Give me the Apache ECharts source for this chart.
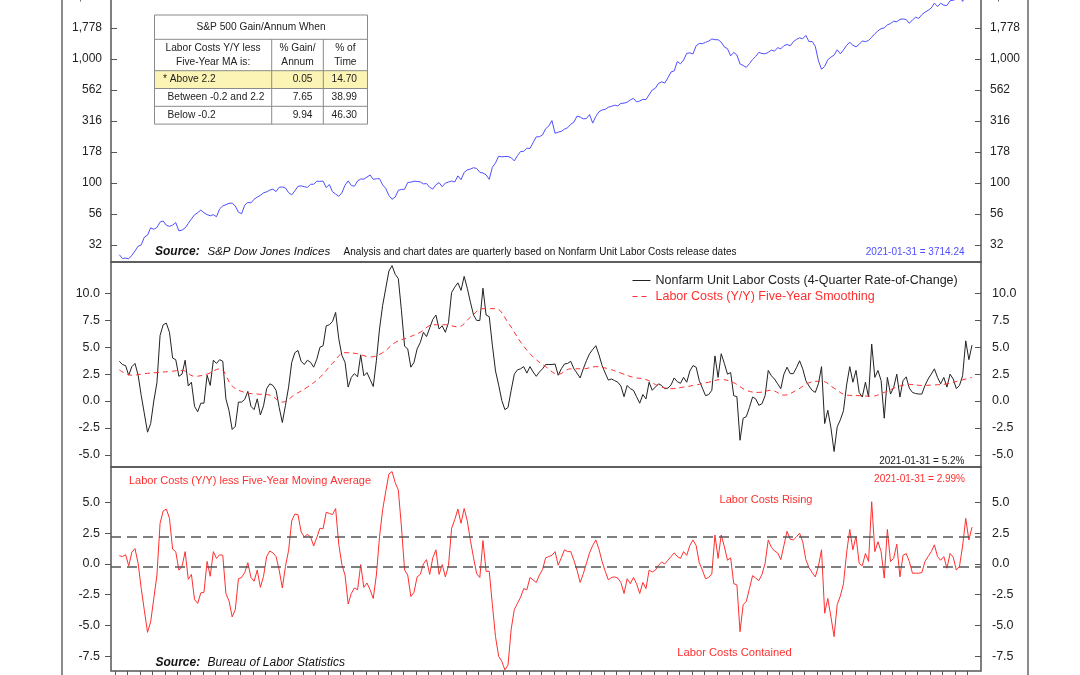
<!DOCTYPE html>
<html>
<head>
<meta charset="utf-8">
<title>S&amp;P 500 and Unit Labor Costs</title>
<script src="https://cdn.jsdelivr.net/npm/echarts@6/dist/echarts.min.js"></script>
<style>
  html, body { margin: 0; padding: 0; background: #fff; }
  #chart { width: 1080px; height: 675px; }
</style>
</head>
<body>
<div id="chart"></div>
<script>
// Three stacked panels: S&P 500 (log), unit labor costs y/y + 5-yr smoothing,
// and the spread between the two. Quarterly points, Jan 1953 .. Jan 2021.

const FONT = '"Liberation Sans", Arial, Helvetica, sans-serif';
const FIRST_YEAR = 1953;
const QUARTER_MONTHS = [1, 4, 7, 10];

// S&P 500, quarterly (Jan/Apr/Jul/Oct)
const spx = [
  26.4, 24.6, 24.8, 24.5,   26.1, 28.3, 30.9, 31.7,   36.6, 38.0, 43.5, 42.3,
  43.8, 48.4, 49.4, 45.6,   44.7, 45.7, 47.9, 41.1,   41.7, 43.4, 47.2, 51.3,
  55.4, 57.6, 60.5, 57.5,   55.6, 54.4, 55.5, 53.4,   61.8, 65.3, 66.8, 68.6,
  68.8, 65.2, 58.2, 56.5,   66.2, 69.8, 69.1, 74.0,   77.0, 79.5, 83.2, 84.9,
  87.6, 89.1, 85.3, 92.4,   92.9, 91.1, 83.6, 80.2,   86.6, 94.0, 94.8, 93.3,
  92.2, 97.6, 97.7, 103.4,  103.0, 103.7, 91.8, 97.1, 85.0, 81.5, 78.1, 83.3,
  95.9, 104.0, 95.6, 94.2,  103.9, 107.7, 107.4, 111.6, 116.0, 107.0, 108.2, 108.3,
  96.6, 90.3, 79.3, 73.9,   77.0, 87.3, 88.8, 89.0,  100.9, 101.6, 103.4, 102.9,
  102.0, 98.4, 98.9, 92.3,  89.3, 96.8, 100.7, 93.2,  99.9, 101.8, 103.8, 101.8,
  114.2, 106.3, 121.7, 127.5, 129.6, 132.8, 130.9, 121.9, 120.4, 116.4, 107.1, 133.7,
  145.3, 164.4, 162.6, 163.6, 163.4, 160.1, 150.7, 166.1, 179.6, 179.8, 190.9, 189.8,
  211.8, 235.5, 236.1, 244.0, 274.1, 288.4, 318.7, 251.8, 257.1, 261.3, 272.0, 279.0,
  297.5, 309.6, 346.1, 340.4, 329.1, 330.8, 356.2, 304.0, 343.9, 375.4, 387.8, 392.5,
  408.8, 415.0, 424.2, 418.7, 438.8, 440.2, 448.1, 467.8, 481.6, 450.9, 458.3, 472.4,
  470.4, 514.7, 562.1, 581.5, 636.0, 654.2, 640.0, 705.3, 786.2, 801.3, 954.3, 914.6,
  980.3, 1111.8, 1120.7, 1098.7, 1279.6, 1335.2, 1328.7, 1362.9, 1394.5, 1452.4, 1430.8, 1429.4,
  1366.0, 1249.5, 1211.2, 1059.8, 1130.2, 1076.9, 911.6, 885.8, 855.7, 916.9, 990.3, 1050.7,
  1131.1, 1107.3, 1101.7, 1130.2, 1181.3, 1156.9, 1234.2, 1207.0, 1280.1, 1310.6, 1276.7, 1377.9,
  1438.2, 1482.4, 1455.3, 1549.4, 1378.6, 1385.6, 1267.4, 968.8, 825.9, 872.8, 987.5, 1036.2,
  1073.9, 1186.7, 1101.6, 1183.3, 1286.1, 1363.6, 1292.3, 1253.3, 1312.4, 1397.9, 1379.3, 1412.2,
  1498.1, 1597.6, 1685.7, 1756.5, 1782.6, 1884.0, 1930.7, 2018.1, 1995.0, 2085.5, 2103.8, 2079.4,
  1940.2, 2065.3, 2173.6, 2126.2, 2278.9, 2384.2, 2470.3, 2575.3, 2823.8, 2648.1, 2816.3, 2711.7,
  2704.1, 2945.8, 2980.4, 3037.6, 3225.5, 2912.4, 3271.1, 3270.0, 3714.24
];

// Nonfarm unit labor costs, 4-quarter rate of change (%)
const laborCostsYoY = [
  3.7, 3.4, 3.3, 2.4, 3.2, 3.5, 2.4, 0.5, -1.2, -2.9,
  -2.1, 0.0, 1.7, 6.1, 7.1, 7.25, 6.4, 4.0, 3.85, 2.3,
  2.5, 3.8, 1.4, 1.75, -0.5, -1.0, -0.2, -0.2, 2.4, 1.45,
  3.8, 3.5, 3.85, 3.7, 0.2, -0.9, -2.65, -2.35, -0.1, -0.1,
  0.15, 0.9, -0.5, -0.8, 0.2, -1.3, -0.45, 1.15, 1.6, 1.45,
  1.0, -0.6, -2.0, -0.4, 1.3, 3.6, 4.5, 4.7, 3.7, 3.4,
  3.8, 3.6, 3.15, 3.9, 5.0, 5.15, 7.0, 7.1, 7.4, 8.25,
  5.8, 4.25, 3.6, 1.3, 2.2, 2.55, 2.25, 4.3, 2.35, 2.65,
  2.0, 1.35, 3.75, 6.7, 8.9, 10.5, 12.1, 12.6, 11.8, 11.4,
  8.4, 5.1, 4.85, 3.15, 3.6, 4.85, 5.45, 6.4, 6.0, 6.8,
  7.6, 8.0, 6.7, 7.0, 6.4, 7.3, 10.1, 10.6, 11.0, 10.3,
  11.6, 10.5, 9.2, 8.0, 7.5, 7.5, 10.5, 8.0, 7.85, 5.2,
  2.8, 1.5, 0.06, -0.8, -0.6, 1.0, 2.5, 2.9, 3.0, 3.2,
  2.6, 3.2, 2.7, 2.3, 2.7, 3.0, 3.4, 3.4, 3.4, 3.45, 2.4,
  3.0, 3.45, 3.5, 3.7, 3.0, 2.6, 2.15, 3.0, 3.75, 4.4,
  4.8, 5.15, 4.3, 3.3, 2.6, 1.95, 2.05, 1.9, 1.75, 1.4,
  0.4, 1.45, 1.15, 1.0, 0.4, -0.2, 0.6, 0.2, 1.75, 1.0,
  1.3, 1.6, 1.45, 1.15, 1.2, 1.5, 2.15, 1.8, 1.65, 2.2,
  1.75, 2.8, 3.3, 3.15, 1.9, 1.2, 0.5, 0.6, 1.0, 4.2,
  2.2, 4.4, 3.5, 2.5, 2.65, 0.5, 0.4, -3.65, -1.6, -1.45,
  -0.6, 0.37, 0.2, -0.4, -0.25, 0.5, 2.85, 2.35, 2.05, 1.6,
  1.15, 2.5, 3.15, 2.55, 2.55, 3.1, 3.75, 3.0, 1.9, 1.4,
  1.0, 0.8, 1.6, 3.2, -2.1, -0.86, -2.5, -4.7, -2.4, -1.75,
  -0.9, 1.5, 3.2, 1.75, 2.85, 0.8, 0.37, 1.75, 0.37, 5.3,
  2.2, 2.85, 1.9, -1.6, 2.2, 0.65, 1.25, 2.5, 0.37, 1.9,
  2.25, 1.2, 0.8, 0.7, 0.65, 0.65, 1.45, 2.05, 2.5, 3.0,
  2.2, 1.6, 2.2, 1.3, 2.5, 2.05, 1.15, 1.45, 2.35, 5.6,
  3.85, 5.2
];

// Five-year smoothing, one reading per year (January quarter)
const laborCostsSmooth = [
  2.9, 2.4, 2.55, 2.65, 2.75, 2.85, 2.3, 2.5, 3.0, 1.4,
  0.8, 0.65, 0.55, -0.1, 0.6, 1.3, 2.2, 3.5, 4.5, 4.4,
  4.1, 4.5, 5.45, 5.9, 6.4, 7.1, 7.1, 6.9, 7.8, 8.6,
  8.6, 7.3, 5.5, 4.1, 3.2, 2.5, 3.0, 3.0, 3.2, 3.0,
  2.6, 2.2, 2.0, 1.4, 1.15, 1.3, 1.5, 1.75, 2.0, 1.7,
  1.0, 0.8, 1.0, 0.55, 1.0, 1.7, 1.85, 1.2, 0.55, 0.5,
  0.45, 0.8, 1.3, 1.55, 1.45, 1.5, 1.6, 1.9, 2.2
];

// Labor costs y/y less five-year moving average
const laborCostsLessMA = [
  0.67, 0.6, 0.75, -0.15, 0.95, 1.25, 0.05, -2.0, -3.8, -5.55,
  -4.7, -2.8, -0.9, 3.3, 4.3, 4.45, 3.7, 1.2, 1.0, -0.5,
  -0.2, 1.0, -1.25, -0.85, -2.9, -3.2, -2.35, -2.3, 0.2, -1.0,
  1.0, 0.45, 0.75, 0.7, -2.4, -3.0, -4.3, -3.7, -1.2, -1.1,
  -0.7, 0.1, -1.1, -1.4, -0.5, -1.9, -1.0, 0.6, 1.05, 0.9,
  0.6, -0.5, -1.95, -0.2, 1.1, 3.5, 4.05, 4.0, 2.6, 2.2,
  2.4, 2.2, 1.45, 2.15, 2.9, 2.85, 4.2, 4.1, 4.0, 4.5,
  1.6, -0.05, -0.9, -3.25, -2.4, -1.95, -2.1, -0.05, -1.9, -1.55,
  -2.1, -2.8, -0.9, 2.2, 4.4, 5.9, 7.3, 7.5, 6.6, 6.0,
  3.0, -0.5, -0.9, -2.65, -2.3, -1.05, -0.85, 0.0, 0.35, -0.85,
  0.5, 1.15, -0.85, -0.05, -1.05, -0.15, 2.9, 3.6, 4.45, 3.3,
  4.5, 3.5, 1.9, 0.5, -0.8, -1.1, 1.9, -0.6, -0.6, -3.3,
  -5.9, -7.5, -7.9, -8.6, -8.2, -5.3, -3.7, -3.2, -2.7, -2.0,
  -2.1, -1.1, -1.3, -1.5, -0.9, -0.45, 0.5, 0.6, 0.7, 1.0, -0.1,
  0.5, 1.15, 1.0, 1.0, 0.3, -0.5, -1.5, -0.8, 0.05, 0.9,
  1.5, 1.95, 1.2, 0.2, -0.6, -1.3, -1.1, -1.05, -1.15, -1.5,
  -2.4, -1.2, -1.6, -1.1, -1.6, -2.4, -1.5, -2.0, -0.5, -0.65,
  -0.5, -0.1, 0.15, 0.0, 0.3, 0.6, 0.9, 0.6, 0.45, 1.0,
  0.7, 1.5, 1.95, 1.5, 0.1, -0.5, -1.2, -1.1, -0.8, 2.35,
  0.45, 2.35, 1.4, 0.3, 0.5, -1.6, -1.7, -5.5, -3.3, -3.05,
  -2.0, -0.95, -1.15, -1.35, -0.85, 0.05, 1.95, 1.35, 1.05, 0.9,
  0.35, 1.5, 2.65, 2.0, 1.95, 2.2, 2.5, 1.8, 0.35, -0.3,
  -0.7, -1.05, -0.2, 1.15, -4.0, -2.8, -4.3, -5.9, -3.3, -2.6,
  -1.6, 0.9, 2.8, 1.15, 2.25, 0.05, -0.15, 0.85, 0.2, 5.05,
  1.0, 1.8, 1.0, -1.15, 2.8, 0.2, 0.45, 1.6, -1.05, 0.7,
  0.85, 0.2, -0.75, -0.75, -0.75, -0.7, 0.2, 0.6, 1.0, 1.55,
  0.6, 0.3, 0.6, -0.35, 0.85, 0.55, -0.5, -0.2, 1.45, 3.7,
  1.95, 2.99
];

const laborTicks = [-5, -2.5, 0, 2.5, 5, 7.5, 10];
const spreadTicks = [-7.5, -5, -2.5, 0, 2.5, 5];
const spreadBands = [2.2, -0.2];

const tableTitle = 'S&P 500 Gain/Annum When';
const tableHead = [
  ['Labor Costs Y/Y less', 'Five-Year MA is:'],
  ['% Gain/', 'Annum'],
  ['% of', 'Time']
];
const tableRows = [
  ['* Above 2.2', '0.05', '14.70'],
  ['Between -0.2 and 2.2', '7.65', '38.99'],
  ['Below -0.2', '9.94', '46.30']
];

// release-date position in decimal years
const qTime = spx.map((_, i) => FIRST_YEAR + Math.floor(i / 4) + QUARTER_MONTHS[i % 4] / 12);
const yearTime = laborCostsSmooth.map((_, k) => qTime[k * 4]);
const yearTicks = [];
for (let y = 1952; y <= 2020; y++) yearTicks.push(y + 0.74);

const X_MIN = 1952.42, X_MAX = 2021.8;
const pairs = (xs, ys) => ys.map((v, i) => [xs[i], v]);

const RED = '#ff2f2f';
const BLUE = '#4f4fff';
const AXIS = '#555';

function fmtThousands(v) {
  return String(Math.round(v)).replace(/\B(?=(\d{3})+(?!\d))/g, ',');
}

function txt(x, y, text, o) {
  o = o || {};
  return {
    type: 'text', x: x, y: y, silent: true, z: 100,
    style: {
      text: text,
      font: (o.style || '') + ' ' + (o.size || 12) + 'px ' + FONT,
      fill: o.color || '#222',
      textAlign: o.align || 'left', align: o.align || 'left',
      textVerticalAlign: 'middle', verticalAlign: 'middle'
    }
  };
}

function hline(x1, x2, y, color, w) {
  return { type: 'line', silent: true, z: 99, shape: { x1: x1, y1: y, x2: x2, y2: y }, style: { stroke: color, lineWidth: w || 1 } };
}

function vline(x, y1, y2, color, w) {
  return { type: 'line', silent: true, z: 99, shape: { x1: x, y1: y1, x2: x, y2: y2 }, style: { stroke: color, lineWidth: w || 1 } };
}

// ---- summary table (top-left) ----
const T = { l: 154.5, r: 367.5, top: 15, titleB: 39.3, headB: 70.7, rowH: 17.8, c1: 271.7, c2: 323.3 };
const TS = 10.2;
const tableGraphics = [
  { type: 'rect', silent: true, z: 98, shape: { x: T.l, y: T.top, width: T.r - T.l, height: T.headB + 3 * T.rowH - T.top }, style: { fill: '#fff', stroke: '#8a8a8a', lineWidth: 1 } },
  { type: 'rect', silent: true, z: 98, shape: { x: T.l + 0.5, y: T.headB, width: T.r - T.l - 1, height: T.rowH }, style: { fill: '#fbf4b4' } },
  hline(T.l, T.r, T.titleB, '#8a8a8a'),
  hline(T.l, T.r, T.headB, '#8a8a8a'),
  hline(T.l, T.r, T.headB + T.rowH, '#8a8a8a'),
  hline(T.l, T.r, T.headB + 2 * T.rowH, '#8a8a8a'),
  vline(T.c1, T.titleB, T.headB + 3 * T.rowH, '#8a8a8a'),
  vline(T.c2, T.titleB, T.headB + 3 * T.rowH, '#8a8a8a'),
  txt((T.l + T.r) / 2, (T.top + T.titleB) / 2, tableTitle, { align: 'center', size: TS })
];
const colMid = [(T.l + T.c1) / 2, (T.c1 + T.c2) / 2, (T.c2 + T.r) / 2];
tableHead.forEach((lines, c) => {
  tableGraphics.push(txt(colMid[c], 48.5, lines[0], { align: 'center', size: TS }));
  tableGraphics.push(txt(colMid[c], 62, lines[1], { align: 'center', size: TS }));
});
tableRows.forEach((row, r) => {
  const y = T.headB + r * T.rowH + T.rowH / 2;
  tableGraphics.push(txt(r === 0 ? 163 : 167.5, y, row[0], { size: TS }));
  tableGraphics.push(txt(312.5, y, row[1], { size: TS, align: 'right' }));
  tableGraphics.push(txt(357, y, row[2], { size: TS, align: 'right' }));
});

const chart = echarts.init(document.getElementById('chart'), null, { renderer: 'canvas' });

const gridBase = { left: 111, right: 99, show: true, borderColor: AXIS, borderWidth: 1.5, backgroundColor: 'transparent', containLabel: false, outerBoundsMode: 'none' };

function xAxisFor(g) {
  return {
    gridIndex: g, type: 'value', min: X_MIN, max: X_MAX, position: 'bottom',
    axisLine: { show: false, onZero: false }, axisLabel: { show: false }, splitLine: { show: false },
    axisTick: { show: g === 2, customValues: yearTicks, length: 5, lineStyle: { color: AXIS, width: 1 } }
  };
}

function yValueAxis(g, pos, min, max, ticks, insideTick) {
  return {
    gridIndex: g, type: 'value', position: pos, min: min, max: max,
    axisLine: { show: false, onZero: false }, splitLine: { show: false },
    axisTick: { inside: insideTick, length: 6, customValues: ticks, lineStyle: { color: AXIS, width: 1 } },
    axisLabel: {
      customValues: ticks, margin: 11,
      formatter: v => v.toFixed(1), color: '#222', fontFamily: FONT, fontSize: 12.5
    }
  };
}

function yLogAxis(pos) {
  return {
    gridIndex: 0, type: 'log', logBase: Math.pow(10, 0.25), position: pos,
    min: 23.06, max: 4336,
    axisLine: { show: false, onZero: false }, splitLine: { show: false },
    axisTick: { inside: true, length: 6, lineStyle: { color: AXIS, width: 1 } },
    axisLabel: {
      margin: 9, formatter: fmtThousands, color: '#222', fontFamily: FONT, fontSize: 12,
      showMinLabel: false, showMaxLabel: false
    }
  };
}

const option = {
  animation: false,
  backgroundColor: '#fff',
  textStyle: { fontFamily: FONT },
  grid: [
    Object.assign({ top: -20, height: 282 }, gridBase),
    Object.assign({ top: 262, height: 205 }, gridBase),
    Object.assign({ top: 467, height: 204 }, gridBase)
  ],
  xAxis: [xAxisFor(0), xAxisFor(1), xAxisFor(2)],
  yAxis: [
    yLogAxis('left'),
    yLogAxis('right'),
    yValueAxis(1, 'left', -6.14, 12.94, laborTicks, false),
    yValueAxis(1, 'right', -6.14, 12.94, laborTicks, true),
    yValueAxis(2, 'left', -8.69, 7.87, spreadTicks, false),
    yValueAxis(2, 'right', -8.69, 7.87, spreadTicks, true)
  ],
  legend: {
    orient: 'vertical', left: 632, top: 274, padding: 0,
    itemWidth: 18, itemHeight: 12, itemGap: 3,
    itemStyle: { opacity: 0 },
    lineStyle: { width: 1 },
    textStyle: { fontFamily: FONT, fontSize: 12.5, lineHeight: 13 },
    data: [
      { name: 'Nonfarm Unit Labor Costs (4-Quarter Rate-of-Change)', textStyle: { color: '#222' } },
      { name: 'Labor Costs (Y/Y) Five-Year Smoothing', textStyle: { color: RED } }
    ]
  },
  series: [
    {
      name: 'S&P 500', type: 'line', xAxisIndex: 0, yAxisIndex: 0,
      data: pairs(qTime, spx), showSymbol: false, symbol: 'none', clip: true,
      lineStyle: { color: BLUE, width: 1 }, itemStyle: { color: BLUE }
    },
    {
      name: 'Nonfarm Unit Labor Costs (4-Quarter Rate-of-Change)', type: 'line', xAxisIndex: 1, yAxisIndex: 2,
      data: pairs(qTime, laborCostsYoY), symbol: 'none', clip: true,
      lineStyle: { color: '#222', width: 1 }, itemStyle: { color: '#222' }
    },
    {
      name: 'Labor Costs (Y/Y) Five-Year Smoothing', type: 'line', xAxisIndex: 1, yAxisIndex: 2,
      data: pairs(yearTime, laborCostsSmooth), symbol: 'none', smooth: 0.4, clip: true,
      lineStyle: { color: RED, width: 1, type: [5, 4] }, itemStyle: { color: RED }
    },
    {
      name: 'Labor Costs (Y/Y) less Five-Year Moving Average', type: 'line', xAxisIndex: 2, yAxisIndex: 4,
      data: pairs(qTime, laborCostsLessMA), symbol: 'none', clip: true,
      lineStyle: { color: RED, width: 1 }, itemStyle: { color: RED },
      markLine: {
        silent: true, symbol: 'none', label: { show: false },
        lineStyle: { color: '#555', width: 1.5, type: [10, 6] },
        data: spreadBands.map(v => ({ yAxis: v }))
      }
    }
  ],
  graphic: [
    // outer frame
    vline(62, 0, 675, '#666', 1.5),
    vline(1028, 0, 675, '#666', 1.5),
    // top panel notes
    txt(155, 251.5, 'Source:', { style: 'italic bold', size: 12, color: '#111' }),
    txt(207.5, 251.5, 'S&P Dow Jones Indices', { style: 'italic', size: 11.5, color: '#111' }),
    txt(343.5, 252.5, 'Analysis and chart dates are quarterly based on Nonfarm Unit Labor Costs release dates', { size: 10, color: '#111' }),
    txt(964.5, 252.5, '2021-01-31 = ' + spx[spx.length - 1].toFixed(2), { size: 10, color: BLUE, align: 'right' }),
    // middle panel note
    txt(964.5, 461, '2021-01-31 = ' + laborCostsYoY[laborCostsYoY.length - 1].toFixed(1) + '%', { size: 10, color: '#222', align: 'right' }),
    // bottom panel notes
    txt(129, 480.5, 'Labor Costs (Y/Y) less Five-Year Moving Average', { size: 11, color: RED }),
    txt(965, 479, '2021-01-31 = ' + laborCostsLessMA[laborCostsLessMA.length - 1].toFixed(2) + '%', { size: 10, color: RED, align: 'right' }),
    txt(766, 499.5, 'Labor Costs Rising', { size: 11, color: RED, align: 'center' }),
    txt(734.5, 652.5, 'Labor Costs Contained', { size: 11.2, color: RED, align: 'center' }),
    txt(155.5, 663, 'Source:', { style: 'italic bold', size: 12, color: '#111' }),
    txt(207.5, 663, 'Bureau of Labor Statistics', { style: 'italic', size: 12, color: '#111' })
  ].concat(tableGraphics)
};

chart.setOption(option);
</script>
</body>
</html>
